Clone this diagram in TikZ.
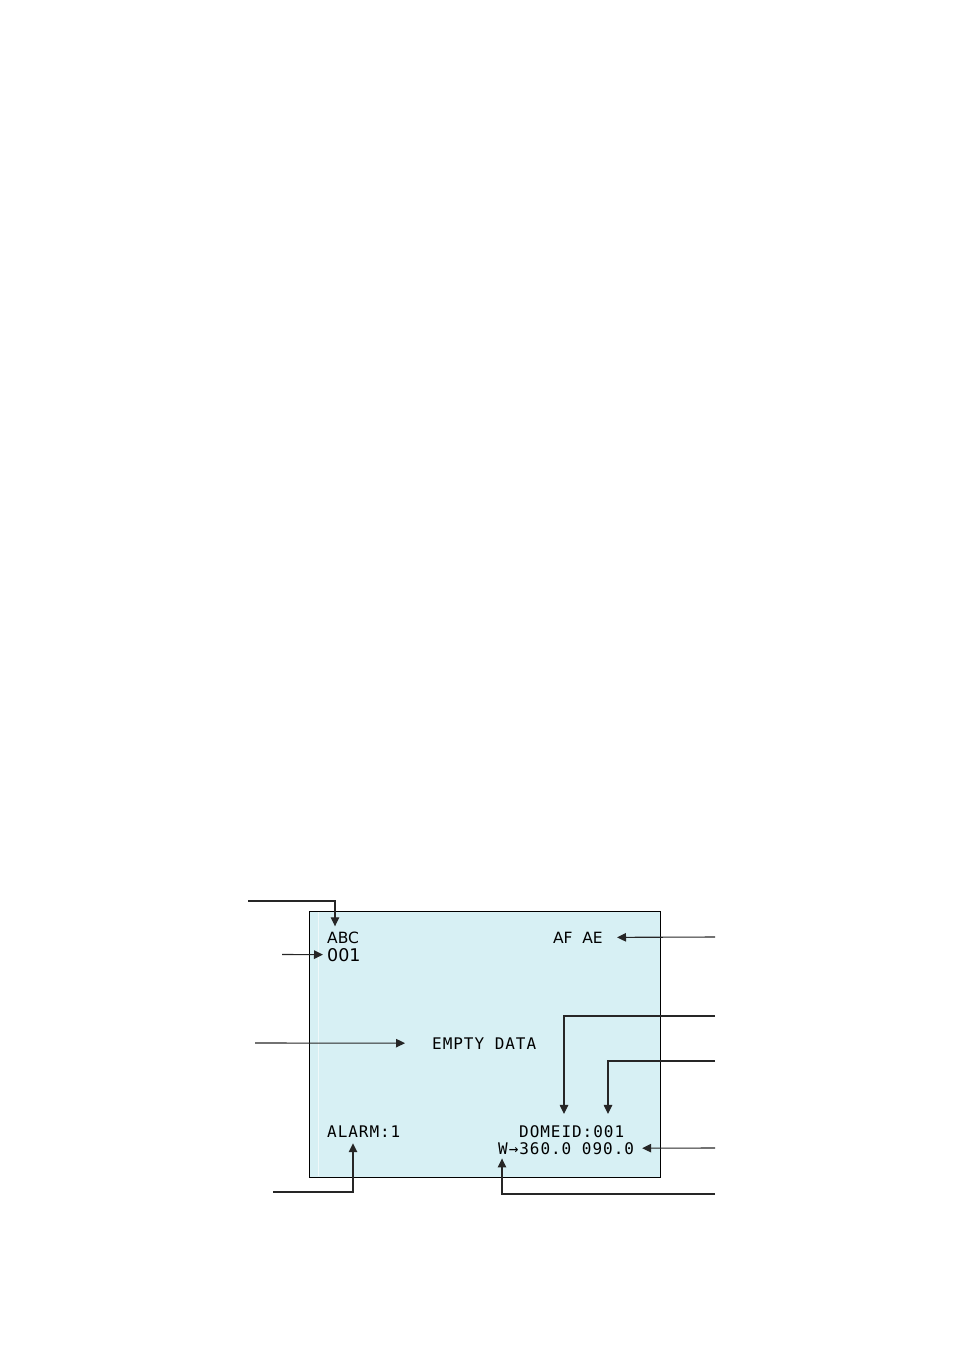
\documentclass[tikz,border=0pt]{standalone}
\usepackage{fontspec}
\usetikzlibrary{arrows.meta,calc}
\newfontfamily\osdsansfont{DejaVu Sans}
\newfontfamily\osdmonofont[LetterSpace=6]{DejaVu Sans Mono}
\definecolor{screenfill}{HTML}{D7F0F4}
\tikzset{
  osdsans/.style={inner sep=0pt, font=\osdsansfont\fontsize{15.5}{18}\selectfont},
  osdmono/.style={inner sep=0pt, font=\osdmonofont\fontsize{16}{19}\selectfont},
  leader/.style={draw=black!85, line width=1.1pt, -{Triangle[length=9pt,width=8.5pt]}}
}
\begin{document}
\begin{tikzpicture}[x=1pt,y=-1pt]
\useasboundingbox (0,0) rectangle (954,1350);

% Screen
\draw[fill=screenfill, line width=1pt] (309,911) rectangle (660,1177);
\draw[white, opacity=0.6, line width=0.8pt] (318,912) -- (318,1176);

% Screen texts
\node[osdsans, anchor=base west] (abc) at (327,943) {ABC};
\node[osdsans, font=\osdsansfont\fontsize{17.5}{20}\selectfont, anchor=base west] (num) at (327,961) {001};
\node[osdsans, anchor=base east] (afae) at (603,943) {AF\ \ AE};
\node[osdmono, anchor=base west] (empty) at (432,1049) {EMPTY DATA};
\node[osdmono, anchor=base west] (alarm) at (327,1137) {ALARM:1};
\node[osdmono, anchor=base west] (domeid) at (519,1137) {DOMEID:001};
\node[osdmono, anchor=base west] (ptz) at (498,1154) {W→360.0 090.0};

% Free ends of the leaders
\coordinate (titleIn) at (248,901);
\coordinate (numIn) at (282,954.5);
\coordinate (msgIn) at (255,1043);
\coordinate (focusIn) at (715,937);
\coordinate (domeIn) at (715,1016);
\coordinate (idIn) at (715,1061);
\coordinate (angleIn) at (715,1148);
\coordinate (dirIn) at (715,1194);
\coordinate (alarmIn) at (273,1192);

% Leaders
\draw[leader] (titleIn) -| ($(abc.north west)+(8,-5)$);
\draw[leader] (numIn) -- ($(num.west)+(-4,0)$);
\draw[leader] (msgIn) -- ($(empty.west)+(-27,0)$);
\draw[leader] (focusIn) -- ($(afae.east)+(14,0)$);
\draw[leader] (domeIn) -| ($(domeid.north west)+(45,-11)$);
\draw[leader] (idIn) -| ($(domeid.north west)+(89,-11)$);
\draw[leader] (angleIn) -- ($(ptz.east)+(8,0)$);
\draw[leader] (dirIn) -| ($(ptz.south west)+(4,4)$);
\draw[leader, line width=1.6pt] (alarmIn) -| ($(alarm.south west)+(26,6)$);
\end{tikzpicture}
\end{document}
